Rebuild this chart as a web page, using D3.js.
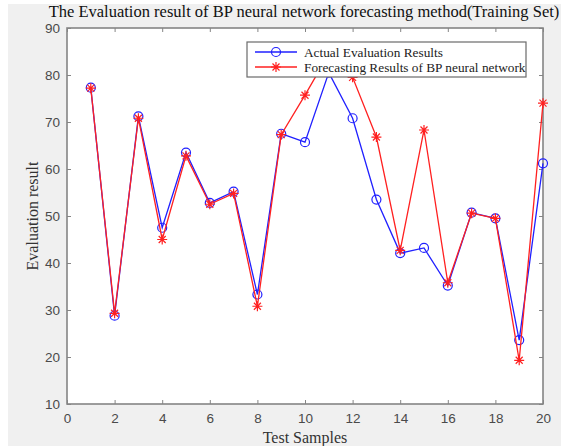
<!DOCTYPE html>
<html>
<head>
<meta charset="utf-8">
<script src="https://cdn.jsdelivr.net/npm/d3@7"></script>
<style>
body { margin: 0; background: #fff; }
svg { display: block; }
</style>
</head>
<body>
<div id="chart"></div>
<script>
// data
var samples = d3.range(1, 21);
var actual = [77.3, 28.8, 71.2, 47.5, 63.5, 52.8, 55.2, 33.3, 67.5, 65.7,
	80.5, 70.8, 53.5, 42.1, 43.2, 35.2, 50.7, 49.5, 23.6, 61.2];
var forecast = [77.2, 29.3, 70.8, 45.0, 62.8, 52.5, 54.8, 30.8, 67.3, 75.7,
	84.5, 79.5, 66.8, 42.7, 68.3, 35.8, 50.6, 49.5, 19.3, 74.0];
var xTicks = [0, 2, 4, 6, 8, 10, 12, 14, 16, 18, 20];
var yTicks = [10, 20, 30, 40, 50, 60, 70, 80, 90];

var width = 561, height = 446;
var margin = {top: 28, right: 18, bottom: 42, left: 67};
var pw = width - margin.left - margin.right,
	ph = height - margin.top - margin.bottom;

var svg = d3.select("#chart").append("svg")
	.attr("width", width).attr("height", height);

// figure background
svg.append("rect").attr("x", 8).attr("y", 4)
	.attr("width", width - 8).attr("height", height - 4)
	.attr("fill", "#f0f0f0");

var plot = svg.append("g")
	.attr("transform", "translate(" + margin.left + "," + margin.top + ")");

var x = d3.scaleLinear().domain([0, 20]).range([0, pw]);
var y = d3.scaleLinear().domain([10, 90]).range([ph, 0]);

plot.append("rect").attr("width", pw).attr("height", ph).attr("fill", "#fff");

var axisColor = "#858585", labelColor = "#4a4a4a";
function styleAxis(g, hideLabels) {
	g.select(".domain").remove();
	g.selectAll("line").attr("stroke", axisColor).attr("stroke-width", 1);
	g.selectAll("text").attr("fill", labelColor)
		.style("font-family", "'Liberation Sans', Arial, sans-serif")
		.style("font-size", "13.5px");
	if (hideLabels) g.selectAll("text").remove();
}

plot.append("g").attr("transform", "translate(0," + ph + ")")
	.call(d3.axisBottom(x).tickValues(xTicks).tickSizeInner(-4).tickSizeOuter(0).tickPadding(9))
	.call(styleAxis);
plot.append("g")
	.call(d3.axisTop(x).tickValues(xTicks).tickSizeInner(-4).tickSizeOuter(0))
	.call(styleAxis, true);
plot.append("g")
	.call(d3.axisLeft(y).tickValues(yTicks).tickSizeInner(-4).tickSizeOuter(0).tickPadding(7))
	.call(styleAxis);
plot.append("g").attr("transform", "translate(" + pw + ",0)")
	.call(d3.axisRight(y).tickValues(yTicks).tickSizeInner(-4).tickSizeOuter(0))
	.call(styleAxis, true);

// frame
plot.append("rect").attr("width", pw).attr("height", ph)
	.attr("fill", "none").attr("stroke", axisColor).attr("stroke-width", 1.6);

// lines
var line = d3.line()
	.x(function(d, i) { return x(samples[i]); })
	.y(function(d) { return y(d); });

plot.append("path").datum(actual)
	.attr("d", line).attr("fill", "none")
	.attr("stroke", "#2020ff").attr("stroke-width", 1.3);
plot.selectAll(".circ").data(actual).enter().append("circle")
	.attr("cx", function(d, i) { return x(samples[i]); })
	.attr("cy", function(d) { return y(d); })
	.attr("r", 4.5).attr("fill", "none")
	.attr("stroke", "#2020ff").attr("stroke-width", 1.2);

plot.append("path").datum(forecast)
	.attr("d", line).attr("fill", "none")
	.attr("stroke", "#ff2020").attr("stroke-width", 1.3);

function star(g, cx, cy) {
	var s = 5;
	g.append("path")
		.attr("d", "M" + (cx - s) + "," + cy + "H" + (cx + s) +
			"M" + cx + "," + (cy - s) + "V" + (cy + s) +
			"M" + (cx - s * 0.7) + "," + (cy - s * 0.7) + "L" + (cx + s * 0.7) + "," + (cy + s * 0.7) +
			"M" + (cx - s * 0.7) + "," + (cy + s * 0.7) + "L" + (cx + s * 0.7) + "," + (cy - s * 0.7))
		.attr("stroke", "#ff2020").attr("stroke-width", 1.2).attr("fill", "none");
}
forecast.forEach(function(d, i) { star(plot, x(samples[i]), y(d)); });

// legend
var lg = svg.append("g").attr("transform", "translate(247,42)");
lg.append("rect").attr("width", 279).attr("height", 35)
	.attr("fill", "#fff").attr("stroke", "#6a6a6a").attr("stroke-width", 1.2);
lg.append("line").attr("x1", 8).attr("x2", 50).attr("y1", 10).attr("y2", 10)
	.attr("stroke", "#2020ff").attr("stroke-width", 1.3);
lg.append("circle").attr("cx", 29).attr("cy", 10).attr("r", 4.5)
	.attr("fill", "none").attr("stroke", "#2020ff").attr("stroke-width", 1.2);
lg.append("line").attr("x1", 8).attr("x2", 50).attr("y1", 25).attr("y2", 25)
	.attr("stroke", "#ff2020").attr("stroke-width", 1.3);
star(lg, 29, 25);
var legendText = ["Actual Evaluation Results", "Forecasting Results of BP neural network"];
lg.selectAll(".lt").data(legendText).enter().append("text")
	.attr("x", 57).attr("y", function(d, i) { return 14.5 + i * 15; })
	.attr("fill", "#222")
	.style("font-family", "'Liberation Serif', 'Times New Roman', serif")
	.style("font-size", "13.3px")
	.text(function(d) { return d; });

// titles
var serif = "'Liberation Serif', 'Times New Roman', serif";
svg.append("text").attr("x", 304).attr("y", 17).attr("text-anchor", "middle")
	.style("font-family", serif).style("font-size", "16.5px").attr("fill", "#111")
	.text("The Evaluation result of BP neural network forecasting method(Training Set)");
svg.append("text").attr("x", 305).attr("y", 443).attr("text-anchor", "middle")
	.style("font-family", serif).style("font-size", "16px").attr("fill", "#333")
	.text("Test Samples");
svg.append("text").attr("transform", "translate(38,216) rotate(-90)")
	.attr("text-anchor", "middle")
	.style("font-family", serif).style("font-size", "16px").attr("fill", "#333")
	.text("Evaluation result");
</script>
</body>
</html>
